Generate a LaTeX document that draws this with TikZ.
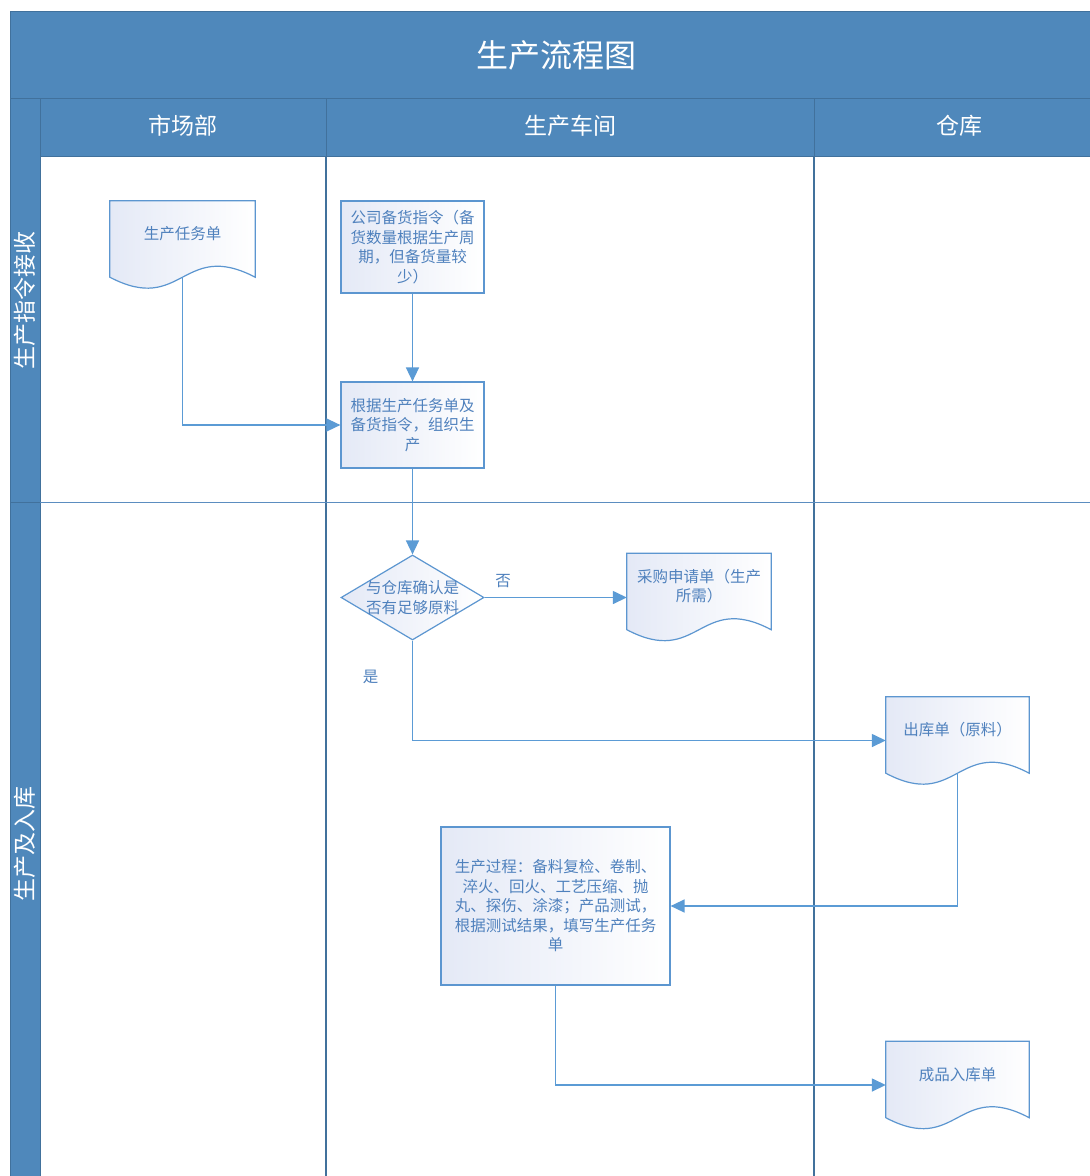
\documentclass[tikz,border=0pt]{standalone}
\usepackage{fontspec}
\setmainfont{Noto Sans CJK SC}
\usetikzlibrary{arrows.meta,shapes.geometric,backgrounds}
\definecolor{headfill}{RGB}{79,136,187}
\definecolor{headline}{RGB}{65,113,156}
\definecolor{rowline}{RGB}{91,141,192}
\definecolor{nodeline}{RGB}{92,150,208}
\definecolor{nodefill}{RGB}{228,233,246}
\definecolor{nodetext}{RGB}{79,129,189}
\definecolor{flowline}{RGB}{91,155,213}
\tikzset{
  headcell/.style={draw=headline, line width=1pt, fill=headfill},
  headtext/.style={text=white, inner sep=0pt, font=\fontsize{23}{26}\selectfont},
  laneline/.style={draw=headline, line width=1.3pt},
  procbox/.style={draw=nodeline, line width=1.2pt, left color=nodefill, right color=white,
    text=nodetext, align=center, inner sep=0pt,
    font=\fontsize{15.5}{19.5}\selectfont},
  docbox/.style={rectangle, inner sep=0pt, minimum width=144pt, minimum height=87pt,
    text=nodetext, align=center, text depth=23pt, font=\fontsize{15.5}{19.5}\selectfont},
  docline/.style={draw=nodeline, line width=1.2pt, left color=nodefill, right color=white},
  decision/.style={diamond, draw=nodeline, line width=1.2pt, left color=nodefill,
    right color=white, inner sep=0pt, aspect=1.68,
    minimum width=143pt, minimum height=85pt},
  flowtext/.style={text=nodetext, font=\fontsize{15.5}{19.5}\selectfont},
  flow/.style={draw=flowline, line width=1.5pt, -{Triangle[length=14pt,width=13pt]}},
}
\begin{document}
\begin{tikzpicture}[x=1pt,y=-1pt]
\useasboundingbox (0,0) rectangle (1090,1176);
% Header band
\path[headcell] (10,11) rectangle (1090,98);
\node[headtext, font=\fontsize{32}{36}\selectfont] (title) at (556,55) {生产流程图};
\path[headcell] (40,98) rectangle (326,156);
\path[headcell] (326,98) rectangle (814,156);
\path[headcell] (814,98) rectangle (1090,156);
\node[headtext] (market) at (183,126) {市场部};
\node[headtext] (workshop) at (570,126) {生产车间};
\node[headtext] (storehouse) at (959,126) {仓库};
% Row band
\path[headcell] (10,98) rectangle (40,502);
\path[headcell] (10,502) rectangle (40,1176);
\node[headtext, rotate=90] (rowone) at (25,300) {生产指令接收};
\node[headtext, rotate=90] (rowtwo) at (25,844) {生产及入库};
% Lanes
\draw[laneline] (326,156) -- (326,1176);
\draw[laneline] (814,156) -- (814,1176);
\draw[rowline, line width=0.8pt] (40,502) -- (1090,502);
% Steps
\node[docbox, minimum width=145pt] (order) at (182.5,244.5) {生产任务单};
\node[procbox, minimum width=143pt, minimum height=92pt] (stockcmd) at (412.5,247)
  {公司备货指令（备\\货数量根据生产周\\期，但备货量较\\少）};
\node[procbox, minimum width=143pt, minimum height=86pt] (organize) at (412.5,425)
  {根据生产任务单及\\备货指令，组织生\\产};
\node[decision, label={[flowtext, align=center]center:与仓库确认是\\否有足够原料}] (check) at (412.5,597.5) {};
\node[docbox] (purchase) at (699,597) {采购申请单（生产\\所需）};
\node[docbox, minimum width=143pt] (issue) at (957.5,740.5) {出库单（原料）};
\node[procbox, minimum width=229pt, minimum height=158pt] (process) at (555.5,906)
  {生产过程：备料复检、卷制、\\淬火、回火、工艺压缩、抛\\丸、探伤、涂漆；产品测试，\\根据测试结果，填写生产任务\\单};
\node[docbox, minimum width=143pt] (store) at (957.5,1085) {成品入库单};
% Document outlines
\begin{scope}[on background layer]
\fill[white] (0,0) rectangle (1090,1176);
\foreach \n in {order,purchase,issue,store}
  \draw[docline] (\n.north west) -- (\n.north east) -- ([yshift=11pt]\n.south east)
    .. controls ([yshift=49pt]\n.south) and ([yshift=-27pt]\n.south) .. ([yshift=11pt]\n.south west) -- cycle
    ([yshift=11pt]\n.south) coordinate (\n-tail);
\end{scope}
% Connectors
\draw[flow] (order-tail) |- (organize.west);
\draw[flow] (stockcmd) -- (organize);
\draw[flow] (organize) -- (check);
\draw[flow] (check.east) -- node[flowtext, above=6pt, pos=0.13] {否} (check.east -| purchase.west);
\draw[flow] (check.south) |- node[flowtext, left=30pt, pos=0.18] {是} (issue.west);
\draw[flow] (issue-tail) |- (process.east);
\draw[flow] (process.south) |- (store.west);
\end{tikzpicture}
\end{document}
